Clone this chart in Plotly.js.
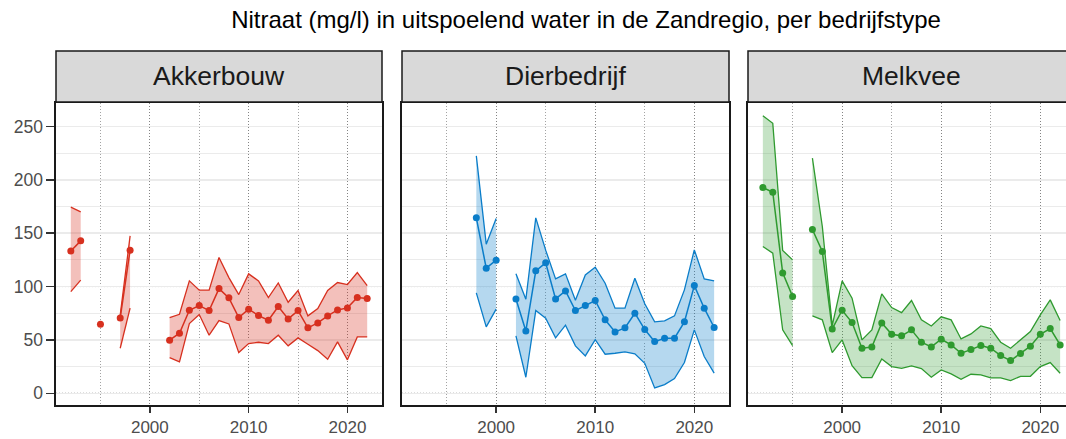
<!DOCTYPE html>
<html><head><meta charset="utf-8">
<script src="https://cdn.plot.ly/plotly-3.0.1.min.js"></script>
<style>html,body{margin:0;padding:0;overflow:hidden;background:#fff}#chart{width:1076px;height:439px}</style>
</head><body><div id="chart"></div><script>
const years = [1992,1993,1994,1995,1996,1997,1998,1999,2000,2001,2002,2003,2004,2005,2006,2007,2008,2009,2010,2011,2012,2013,2014,2015,2016,2017,2018,2019,2020,2021,2022];
const panelNames = ['Akkerbouw','Dierbedrijf','Melkvee'];
const chartTitle = 'Nitraat (mg/l) in uitspoelend water in de Zandregio, per bedrijfstype';

const akkerMean = [133.4,142.8,null,64.7,null,70.6,134,null,null,null,49.7,56.3,77.8,82.2,77.5,98.1,89.4,70.9,78.8,72.8,68.4,81.3,69.7,77.5,61.3,65.9,72.5,78.1,80,89.7,88.8];
const akkerLow  = [95.3,106,null,null,null,42.2,79.7,null,null,null,33.4,29.4,65.3,73.8,54.4,68.1,65,38.1,46.6,47.8,46.6,54.4,44.4,51.9,45.9,40,31.9,48.1,31.3,52.8,52.8];
const akkerHigh = [174.4,170,null,null,null,73,147.5,null,null,null,70.9,74,105.3,96.6,96.6,127.2,108.4,92.5,111.9,105.3,89.7,103.4,85.3,96.3,72.5,79.4,96.3,103.8,101.9,113.1,100.9];

const dierMean = [null,null,null,null,null,null,164.4,117.2,124.7,null,88.4,58.4,114.7,122.2,88.4,95.9,77.5,82.2,86.9,68.8,57.5,61.3,75,59.7,48.4,51.6,51.6,66.9,100.9,79.7,61.6];
const dierLow  = [null,null,null,null,null,null,94.1,62.2,78.8,null,53.8,15,77.5,70.3,51.9,63.8,44.4,35,50.3,36.6,37.5,38.8,36.9,28.1,5,8.1,13.8,28.8,59.4,34.4,18.8];
const dierHigh = [null,null,null,null,null,null,222.5,139.7,163.8,null,111.9,88.1,164.4,134.1,107.2,111.9,87.2,110.9,118.1,103.1,79.7,79.7,107.8,83.8,66.9,67.8,72.5,96.9,134.4,107.2,105.3];

const melkMean = [192.8,188.4,112.8,90.6,null,153.4,132.8,60.3,77.8,66.3,42.2,43.4,65.9,55.3,53.8,59.4,47.8,43.4,50.6,45.3,37.5,40.9,44.7,42.2,35.3,30.6,37.2,44.1,55.3,60.6,45.3];
const melkLow  = [137.5,131.3,59.4,44.7,null,72.5,68.8,38.1,50,25.9,14.7,14.7,32.2,25,23.4,25.6,23.1,15,21.9,18.1,13.1,17.8,17.2,14.4,14.4,11.9,15.9,15.9,25,28.8,18.8];
const melkHigh = [260,253,133.8,125,null,220.3,156.3,63.4,105.3,89.1,50,59.4,93.1,80.3,75.6,86.9,68.8,63.1,71.6,68.8,50.9,55.6,63.1,60.6,47.8,42.2,50,57.8,73.4,87.5,68.1];

const xTicks = [2000,2010,2020];
const xMinor = [1995,2005,2015];
const yTicks = [0,50,100,150,200,250];
const dottedY = [0,50,100,150,200];

const series = [
  {mean: akkerMean, low: akkerLow, high: akkerHigh, line: '#d7301f', fill: 'rgba(215,48,31,0.3)'},
  {mean: dierMean, low: dierLow, high: dierHigh, line: '#0a7dc9', fill: 'rgba(10,125,201,0.3)'},
  {mean: melkMean, low: melkLow, high: melkHigh, line: '#2f9a2f', fill: 'rgba(47,154,47,0.28)'}
];

const W = 1076, H = 439;
const mL = 56, mR = 1, mT = 103, mB = 34;
const plotW = W - mL - mR, plotH = H - mT - mB;
const panelPx = [[0,326],[346,673],[692,1019]];
const stripH = 52 / plotH;

const traces = [];
const shapes = [];
const annotations = [];
const layout = {
  width: W, height: H,
  margin: {l: mL, r: mR, t: mT, b: mB, pad: 0},
  paper_bgcolor: '#fff', plot_bgcolor: '#fff',
  showlegend: false,
  font: {family: 'Liberation Sans, Arial, sans-serif', color: '#4d4d4d'},
  title: {text: chartTitle, font: {size: 24, color: '#000', family: 'Liberation Sans, Arial, sans-serif'},
          x: (586 - mL) / plotW, xref: 'paper', xanchor: 'center', y: 1 - 20 / H, yref: 'container', yanchor: 'middle'},
  shapes: shapes, annotations: annotations
};

function segments(low, high) {
  const segs = []; let cur = [];
  for (let i = 0; i < years.length; i++) {
    if (low[i] != null && high[i] != null) cur.push(i);
    else { if (cur.length) segs.push(cur); cur = []; }
  }
  if (cur.length) segs.push(cur);
  return segs;
}

series.forEach((s, p) => {
  const sfx = p === 0 ? '' : String(p + 1);
  const xa = 'x' + sfx, ya = 'y' + sfx;
  segments(s.low, s.high).forEach(seg => {
    if (seg.length < 2) return;
    const xs = seg.map(i => years[i]).concat(seg.slice().reverse().map(i => years[i]));
    const ys = seg.map(i => s.high[i]).concat(seg.slice().reverse().map(i => s.low[i]));
    traces.push({x: xs, y: ys, xaxis: xa, yaxis: ya, type: 'scatter', mode: 'lines', fill: 'toself',
      fillcolor: s.fill, line: {width: 0}, hoverinfo: 'skip'});
  });
  [s.low, s.high].forEach(b => {
    traces.push({x: years, y: b, xaxis: xa, yaxis: ya, type: 'scatter', mode: 'lines', connectgaps: false,
      line: {color: s.line, width: 1.3}});
  });
  traces.push({x: years, y: s.mean, xaxis: xa, yaxis: ya, type: 'scatter', mode: 'lines+markers', connectgaps: false,
    line: {color: s.line, width: 1.5}, marker: {color: s.line, size: 7}});

  const d0 = panelPx[p][0] / plotW, d1 = panelPx[p][1] / plotW;
  layout['xaxis' + sfx] = {
    domain: [d0, d1], anchor: ya, range: [1990.5, 2023.5],
    tickmode: 'array', tickvals: xTicks, ticks: 'outside', ticklen: 6, tickwidth: 1.5, tickcolor: '#333',
    tickfont: {size: 17, color: '#4d4d4d'},
    showgrid: true, gridcolor: '#777', gridwidth: 0.9, griddash: '1px,2px',
    minor: {tickmode: 'array', tickvals: xMinor, showgrid: true, gridcolor: '#999', gridwidth: 0.9, griddash: '1px,2px'},
    showline: true, mirror: true, linecolor: '#1a1a1a', linewidth: 1.6, zeroline: false
  };
  layout['yaxis' + sfx] = {
    domain: [0, 1], anchor: xa, range: [-11, 272],
    tickmode: 'array', tickvals: yTicks,
    ticks: p === 0 ? 'outside' : '', ticklen: 8, tickwidth: 1.5, tickcolor: '#333',
    showticklabels: p === 0, tickfont: {size: 17.5, color: '#4d4d4d'},
    showgrid: true, gridcolor: '#ebebeb', gridwidth: 1.4,
    minor: {dtick: 25, tick0: 0, showgrid: true, gridcolor: '#ebebeb', gridwidth: 1.2},
    showline: true, mirror: true, linecolor: '#1a1a1a', linewidth: 1.6, zeroline: false
  };
  dottedY.forEach(v => {
    shapes.push({type: 'line', layer: 'below', xref: xa + ' domain', x0: 0, x1: 1, yref: ya, y0: v, y1: v,
      line: {color: '#666', width: 0.9, dash: '1px,2px'}});
  });
  shapes.push({type: 'rect', xref: xa + ' domain', x0: 0, x1: 1, yref: 'paper', y0: 1 + 1 / plotH, y1: 1 + stripH,
    fillcolor: '#d9d9d9', line: {color: '#1a1a1a', width: 1.5}});
  annotations.push({text: panelNames[p], xref: xa + ' domain', x: 0.5, yref: 'paper', y: 1 + stripH / 2 + 1 / plotH,
    xanchor: 'center', yanchor: 'middle', showarrow: false,
    font: {size: 26.5, color: '#1a1a1a', family: 'Liberation Sans, Arial, sans-serif'}});
});

Plotly.newPlot('chart', traces, layout, {displayModeBar: false, staticPlot: true});
</script></body></html>
